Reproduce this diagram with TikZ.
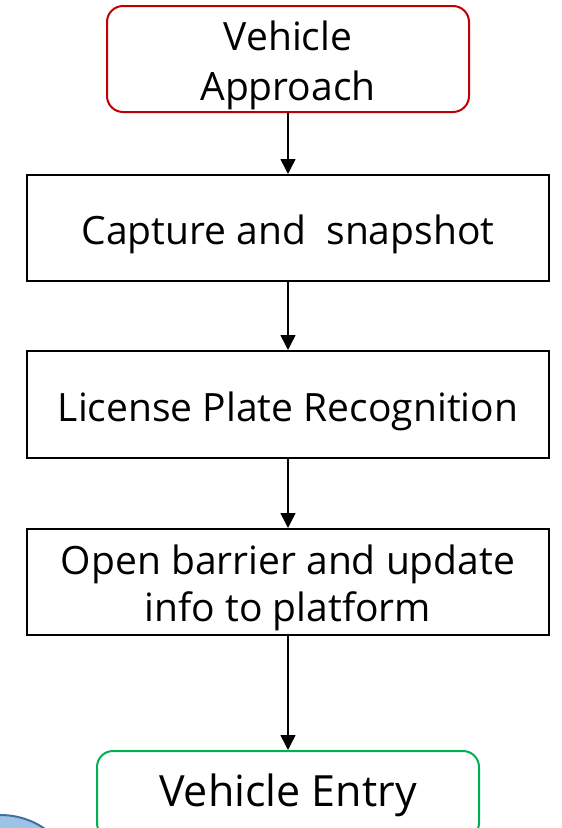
\documentclass[tikz,border=0pt]{standalone}
\usepackage{fontspec}
\setmainfont{Open Sans}
\usetikzlibrary{arrows.meta}
\definecolor{boxred}{RGB}{192,0,0}
\definecolor{boxgreen}{RGB}{0,176,80}
\definecolor{ellfill}{RGB}{157,195,230}
\definecolor{elldraw}{RGB}{65,113,156}
\tikzset{
  stepbox/.style={draw=black, line width=2pt, minimum width=522pt, minimum height=106pt, inner sep=0pt},
  endbox/.style={draw, line width=2pt, rounded corners=16pt, inner sep=0pt, align=center},
  steptext/.style={inner sep=0pt, align=center, font=\fontsize{39}{47}\selectfont},
  flow/.style={line width=1.5pt, -{Triangle[width=15pt,length=15pt]}},
}
\begin{document}
\begin{tikzpicture}[x=1pt,y=-1pt]
\clip (0,0) rectangle (562,828);
\fill[white] (0,0) rectangle (562,828);
\node[endbox, draw=boxred, minimum width=362pt, minimum height=106pt] (a) at (288,59) {};
\node[steptext, font=\fontsize{39}{50}\selectfont] (ta) at (288,65) {Vehicle\\Approach};
\node[stepbox] (b) at (288,228) {};
\node[steptext] (tb) at (288,234) {Capture and~~snapshot};
\node[stepbox, minimum height=107pt] (c) at (288,404.5) {};
\node[steptext] (tc) at (288,411) {License Plate Recognition};
\node[stepbox] (d) at (288,582) {};
\node[steptext] (td) at (288,588) {Open barrier and update\\info to platform};
\node[endbox, draw=boxgreen, minimum width=382pt, minimum height=88pt, font=\fontsize{43}{50}\selectfont] (e) at (288,795) {Vehicle Entry};
\draw[flow] (a) -- (b);
\draw[flow] (b) -- (c);
\draw[flow] (c) -- (d);
\draw[flow] (d) -- (e);
\draw[line width=2pt, draw=elldraw, fill=ellfill] (0,875) ellipse [x radius=70pt, y radius=60pt];
\end{tikzpicture}
\end{document}
